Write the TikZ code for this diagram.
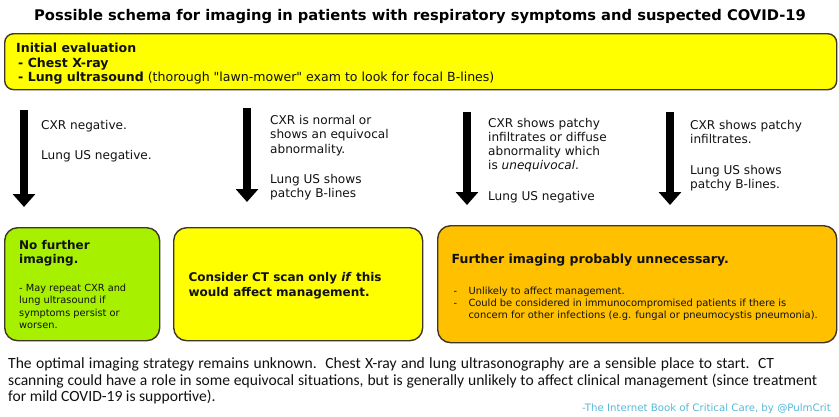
\documentclass[tikz,border=0pt]{standalone}
\usepackage{fontspec}
\setmainfont{DejaVu Sans}
\newfontfamily\calibfont{Carlito}
\usetikzlibrary{arrows.meta}
\definecolor{boxyellow}{HTML}{FFFF00}
\definecolor{boxgreen}{HTML}{A6F000}
\definecolor{boxorange}{HTML}{FFC000}
\definecolor{edgecol}{HTML}{3F3626}
\definecolor{creditcol}{HTML}{55B9D6}
\definecolor{txtcol}{HTML}{111111}
\begin{document}
\begin{tikzpicture}[x=1pt,y=-1pt,
  box/.style={draw=edgecol, line width=1.4pt, rounded corners=13pt, anchor=north west, inner sep=0pt},
  txt/.style={anchor=north west, inner sep=0pt, align=left, text=txtcol},
  bigarrow/.style={line width=8.5pt, -{Triangle[width=22pt,length=13pt]}},
  fA/.style={font=\fontsize{12.1}{14.2}\selectfont},
]
\useasboundingbox (0,0) rectangle (839,416);
% title
\node[anchor=base, inner sep=0pt, font=\bfseries\fontsize{14.7}{17}\selectfont] (title) at (420,20.5)
  {Possible schema for imaging in patients with respiratory symptoms and suspected COVID-19};
% top box
\node[box, rounded corners=9pt, fill=boxyellow, minimum width=832pt, minimum height=56pt] (init) at (4,33) {};
\node[txt, font=\fontsize{12.55}{14.4}\selectfont] (inittxt) at (16,42.6)
  {\strut\textbf{Initial evaluation}\\
   \hspace{2pt}\textbf{- Chest X-ray}\\
   \hspace{2pt}\textbf{- Lung ultrasound} (thorough \textquotedbl lawn-mower\textquotedbl\ exam to look for focal B-lines)};
% arrows
\coordinate (a1s) at (24,110); \coordinate (a1e) at (24,207);
\coordinate (a2s) at (247,108); \coordinate (a2e) at (247,202);
\coordinate (a3s) at (467,112); \coordinate (a3e) at (467,205);
\coordinate (a4s) at (670,112); \coordinate (a4e) at (670,205);
\draw[bigarrow] (a1s) -- (a1e);
\draw[bigarrow] (a2s) -- (a2e);
\draw[bigarrow] (a3s) -- (a3e);
\draw[bigarrow] (a4s) -- (a4e);
% arrow texts
\node[txt, fA] (t1) at (41,119)
  {\strut CXR negative.\\[16pt] Lung US negative.};
\node[txt, fA] (t2) at (270,114.5)
  {\strut CXR is normal or\\ shows an equivocal\\ abnormality.\\[16pt] Lung US shows\\ patchy B-lines};
\node[txt, fA] (t3) at (488,117)
  {\strut CXR shows patchy\\ infiltrates or diffuse\\ abnormality which\\ is \textit{unequivocal}.\\[16.5pt] Lung US negative};
\node[txt, fA] (t4) at (690,119)
  {\strut CXR shows patchy\\ infiltrates.\\[16.5pt] Lung US shows\\ patchy B-lines.};
% bottom boxes
\node[box, fill=boxgreen, minimum width=155pt, minimum height=113pt] (green) at (4,227) {};
\node[box, fill=boxyellow, minimum width=249pt, minimum height=113pt] (yellow) at (173,227) {};
\node[box, fill=boxorange, minimum width=399pt, minimum height=117pt] (orange) at (437,225) {};
\node[txt, font=\bfseries\fontsize{12}{14}\selectfont] (gtitle) at (19,239.5)
  {\strut No further\\ imaging.};
\node[txt, font=\fontsize{9.8}{12.4}\selectfont] (gbody) at (19,282.5)
  {\strut - May repeat CXR and\\ lung ultrasound if\\ symptoms persist or\\ worsen.};
\node[txt, font=\bfseries\fontsize{12}{15}\selectfont] (ytxt) at (188.3,270.5)
  {\strut Consider CT scan only \textit{if} this\\ would affect management.};
\node[anchor=base west, inner sep=0pt, text=txtcol, font=\bfseries\fontsize{12.5}{15}\selectfont] (otitle) at (451.5,263)
  {Further imaging probably unnecessary.};
\node[txt, font=\fontsize{9.9}{12.1}\selectfont] (odash) at (453.3,286)
  {\strut -\\ -};
\node[txt, font=\fontsize{9.9}{12.1}\selectfont] (obody) at (468.3,286)
  {\strut Unlikely to affect management.\\
   Could be considered in immunocompromised patients if there is\\
   concern for other infections (e.g. fungal or pneumocystis pneumonia).};
% bottom note
\node[txt, font=\calibfont\fontsize{15.6}{16}\selectfont] (note) at (8,357)
  {\strut\makebox[766pt][s]{The optimal imaging strategy remains unknown.\ \ Chest X-ray and lung ultrasonography are a sensible place to start.\ \ CT}\\
   \makebox[809pt][s]{scanning could have a role in some equivocal situations, but is generally unlikely to affect clinical management (since treatment}\\
   for mild COVID-19 is supportive).};
\node[anchor=base east, inner sep=0pt, text=creditcol, font=\fontsize{10.2}{12}\selectfont] (credit) at (831,411.5)
  {-The Internet Book of Critical Care, by @PulmCrit};
\end{tikzpicture}
\end{document}
